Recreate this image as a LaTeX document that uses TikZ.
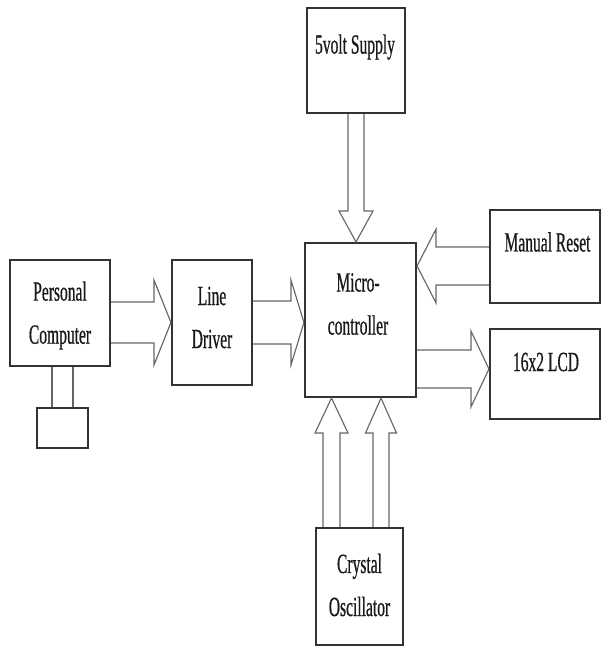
\documentclass[tikz,border=0pt]{standalone}
\usepackage{fontspec}
\setmainfont{Liberation Serif}[FakeStretch=0.56,FakeBold=0.6]
\usetikzlibrary{positioning,calc}

% hollow block arrow: #1 from, #2 to, #3 shaft half width, #4 head half width, #5 head length
\newcommand{\fatarrow}[5]{%
  \path ($(#2)!#5!(#1)$) coordinate (fh);
  \draw[fat] ($(#1)!#3!90:(#2)$) -- ($(fh)!#3!90:(#2)$) -- ($(fh)!#4!90:(#2)$) -- (#2)
    -- ($(fh)!#4!-90:(#2)$) -- ($(fh)!#3!-90:(#2)$) -- ($(#1)!#3!-90:(#2)$);
}

\begin{document}
\begin{tikzpicture}[x=0.02cm, y=-0.02cm]
\tikzstyle{block} = [rectangle, draw=black!80, line width=1.2pt, inner sep=0pt]
\tikzstyle{lbl} = [align=center, text=black!90, inner sep=0pt, font=\fontsize{15.8}{24.5}\selectfont]
\tikzstyle{fat} = [draw=black!60, line width=0.65pt, line join=miter]
\tikzstyle{wire} = [draw=black!60, line width=0.8pt]

\useasboundingbox (0,0) rectangle (602,648);

\node[block, minimum width=2.22cm, minimum height=3.08cm] (mc) at (360.5,320) {};
\node[block, minimum width=1.96cm, minimum height=2.1cm] (sup) at (356,60.5) {};
\node[block, minimum width=2.2cm, minimum height=1.86cm] (rst) at (545,256.5) {};
\node[block, minimum width=2.2cm, minimum height=1.8cm] (lcd) at (545,374) {};
\node[block, minimum width=1.74cm, minimum height=2.34cm] (osc) at (359.5,586.5) {};
\node[block, minimum width=1.6cm, minimum height=2.5cm] (ld) at (212,322.5) {};
\node[block, minimum width=2cm, minimum height=2.12cm] (pc) at (60,313) {};
\node[block, minimum width=1.02cm, minimum height=0.8cm] (kb) at (62.5,428) {};

\node[lbl] (mcT) at ($(mc)+(-2.5,-16)$) {Micro-\\controller};
\node[lbl] (supT) at ($(sup)+(-1,-13.5)$) {5volt Supply};
\node[lbl] (rstT) at ($(rst)+(2.5,-14.5)$) {Manual Reset};
\node[lbl] (lcdT) at ($(lcd)+(1,-12)$) {16x2 LCD};
\node[lbl] (oscT) at ($(osc)+(0,-1.5)$) {Crystal\\Oscillator};
\node[lbl] (ldT) at ($(ld)+(0,-5)$) {Line\\Driver};
\node[lbl] (pcT) at ($(pc)+(0,2.5)$) {Personal\\Computer};

% arrow end points
\coordinate (pcA) at (pc.east |- ld.west);
\coordinate (ldB) at (mc.west |- ld.east);
\coordinate (supB) at (sup.south |- mc.north);
\coordinate (rstA) at ($(rst.west)+(0,9.5)$);
\coordinate (rstB) at (mc.east |- rstA);
\coordinate (lcdA) at ($(mc.east)+(0,49)$);
\coordinate (lcdB) at (lcd.west |- lcdA);
\coordinate (oscL) at ($(osc.north)+(-28,0)$);
\coordinate (oscLB) at (oscL |- mc.south);
\coordinate (oscR) at ($(osc.north)+(21.5,0)$);
\coordinate (oscRB) at (oscR |- mc.south);
\coordinate (kbL) at ($(kb.north)+(-10.5,0)$);
\coordinate (kbR) at ($(kb.north)+(10.5,0)$);

\fatarrow{pcA}{ld.west}{0.41cm}{0.85cm}{0.34cm}
\fatarrow{ld.east}{ldB}{0.43cm}{0.85cm}{0.26cm}
\fatarrow{sup.south}{supB}{0.16cm}{0.34cm}{0.62cm}
\fatarrow{rstA}{rstB}{0.38cm}{0.74cm}{0.38cm}
\fatarrow{lcdA}{lcdB}{0.38cm}{0.76cm}{0.36cm}
\fatarrow{oscL}{oscLB}{0.17cm}{0.33cm}{0.7cm}
\fatarrow{oscR}{oscRB}{0.16cm}{0.31cm}{0.7cm}

\draw[wire] (kbL) -- (kbL |- pc.south);
\draw[wire] (kbR) -- (kbR |- pc.south);
\end{tikzpicture}
\end{document}
